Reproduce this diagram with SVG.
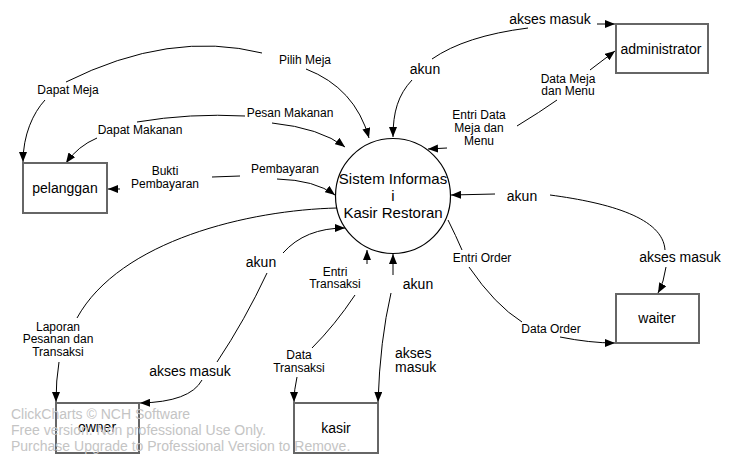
<svg xmlns="http://www.w3.org/2000/svg" width="736" height="465" viewBox="0 0 736 465">
<defs>
<marker id="arr" markerUnits="userSpaceOnUse" markerWidth="10" markerHeight="8" refX="10" refY="4" orient="auto">
<path d="M0,0 L10,4 L0,8 z" fill="#000"/>
</marker>
<style>
.box{fill:#fff;stroke:#666;stroke-width:2}
.proc{fill:#fff;stroke:#000;stroke-width:1.2}
.c{fill:none;stroke:#000;stroke-width:1}
.a{marker-end:url(#arr)}
text{font-family:"Liberation Sans",Arial,sans-serif;fill:#000}
.n{font-size:14px;text-anchor:middle}
.p{font-size:15px;text-anchor:middle}
.s{font-size:12px;text-anchor:middle}
.m{font-size:14px;text-anchor:middle}
.w{font-size:14px;fill:#c4c4c4}
</style>
</defs>
<rect width="736" height="465" fill="#fff"/>
<g id="connectors">
<path class="c" d="M262,53 Q170,30 66,82"/>
<path class="c a" d="M45,100 C33,113 23,135 23,162"/>
<path class="c a" d="M306,69 Q355,88 369,138"/>
<path class="c a" d="M412,80 C398,95 393,112 393,137"/>
<path class="c" d="M432,59 Q465,36 528,28"/>
<path class="c a" d="M597,24 L615,24"/>
<path class="c a" d="M447,148 L428,149"/>
<path class="c" d="M517,126 Q540,112 557,100"/>
<path class="c a" d="M590,70 L615,51"/>
<path class="c a" d="M272,123 Q320,128 345,147"/>
<path class="c" d="M245,116 Q190,113 137,122"/>
<path class="c a" d="M97,138 Q78,146 66,163"/>
<path class="c" d="M212,177 L240,176"/>
<path class="c a" d="M120,189 L108,189"/>
<path class="c a" d="M277,179 Q315,180 335,195"/>
<path class="c" d="M337,208 C250,210 120,240 77,318"/>
<path class="c a" d="M59,362 Q56,380 56,402"/>
<path class="c a" d="M283,253 Q305,228 345,228"/>
<path class="c" d="M267,273 Q245,320 217,362"/>
<path class="c a" d="M202,380 Q190,402 140,403"/>
<path class="c a" d="M367,264 L367,250"/>
<path class="c" d="M355,295 Q335,325 312,348"/>
<path class="c a" d="M297,377 Q294,390 294,402"/>
<path class="c a" d="M393,275 L393,254"/>
<path class="c a" d="M391,293 Q380,340 378,402"/>
<path class="c" d="M448,220 Q456,236 462,250"/>
<path class="c" d="M469,267 Q495,305 522,322"/>
<path class="c a" d="M560,337 Q590,343 615,343"/>
<path class="c a" d="M495,194 L451,195"/>
<path class="c" d="M550,195 C610,203 663,218 665,250"/>
<path class="c a" d="M666,267 Q664,282 658,293"/>
</g>
<g id="labels">
<text class="s" x="305" y="64">Pilih Meja</text>
<text class="s" x="68" y="94">Dapat Meja</text>
<text class="s" x="290" y="117">Pesan Makanan</text>
<text class="s" x="140" y="134">Dapat Makanan</text>
<text class="s" x="165" y="175">Bukti</text>
<text class="s" x="165" y="188">Pembayaran</text>
<text class="s" x="285" y="173">Pembayaran</text>
<text class="m" x="425" y="74">akun</text>
<text class="m" x="550" y="24">akses masuk</text>
<text class="s" x="568" y="83">Data Meja</text>
<text class="s" x="568" y="95">dan Menu</text>
<text class="s" x="479" y="119">Entri Data</text>
<text class="s" x="479" y="132">Meja dan</text>
<text class="s" x="479" y="145">Menu</text>
<text class="m" x="522" y="201">akun</text>
<text class="s" x="482" y="262">Entri Order</text>
<text class="m" x="680" y="262">akses masuk</text>
<text class="s" x="551" y="333">Data Order</text>
<text class="s" x="58" y="331">Laporan</text>
<text class="s" x="58" y="343">Pesanan dan</text>
<text class="s" x="58" y="356">Transaksi</text>
<text class="m" x="261" y="267">akun</text>
<text class="m" x="190" y="376">akses masuk</text>
<text class="s" x="335" y="276">Entri</text>
<text class="s" x="335" y="288">Transaksi</text>
<text class="s" x="299" y="359">Data</text>
<text class="s" x="299" y="372">Transaksi</text>
<text class="m" x="418" y="289">akun</text>
<text font-size="14" x="395" y="358">akses</text>
<text font-size="14" x="395" y="372">masuk</text>
</g>
<g id="sistem">
<circle class="proc" cx="393" cy="196" r="57.5"/>
<text class="p" x="393" y="184">Sistem Informas</text>
<text class="p" x="393" y="201">i</text>
<text class="p" x="393" y="218">Kasir Restoran</text>
</g>
<g id="pelanggan">
<rect class="box" x="23" y="163" width="84" height="50"/>
<text class="n" x="65" y="193">pelanggan</text>
</g>
<g id="administrator">
<rect class="box" x="616" y="24" width="92" height="49"/>
<text class="n" x="661" y="54">administrator</text>
</g>
<g id="waiter">
<rect class="box" x="616" y="294" width="83" height="49"/>
<text class="n" x="657" y="323">waiter</text>
</g>
<g id="owner">
<rect class="box" x="56" y="403" width="83" height="50"/>
<text class="n" x="97" y="432">owner</text>
</g>
<g id="kasir">
<rect class="box" x="294" y="403" width="84" height="50"/>
<text class="n" x="336" y="433">kasir</text>
</g>
<g id="watermark">
<text class="w" x="11" y="419">ClickCharts © NCH Software</text>
<text class="w" x="11" y="435">Free version. Non professional Use Only.</text>
<text class="w" x="11" y="451">Purchase Upgrade to Professional Version to Remove.</text>
</g>
</svg>
